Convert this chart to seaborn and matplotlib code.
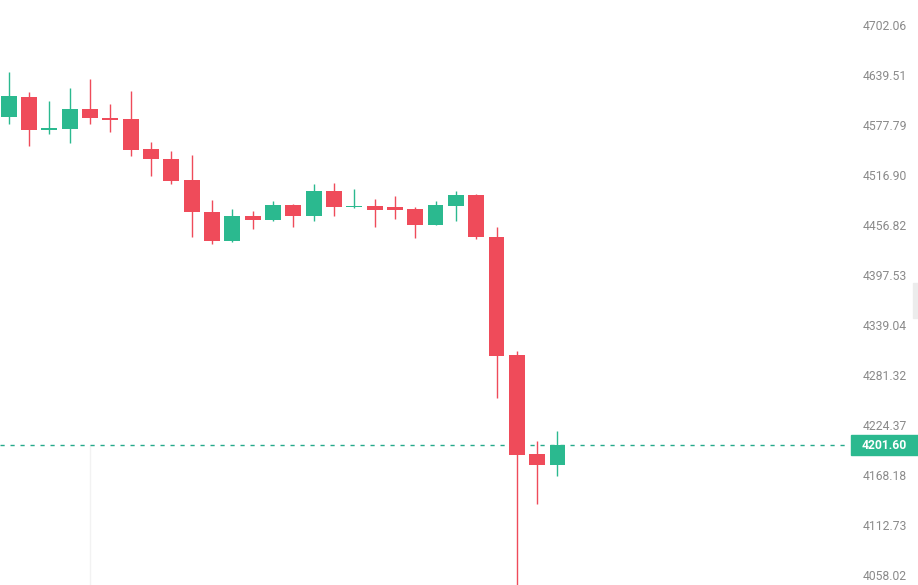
import numpy as np
import pandas as pd
import seaborn as sns
import matplotlib.pyplot as plt
from matplotlib.patches import Rectangle

sns.set_theme(style="white")
plt.rcParams['font.family'] = ['Roboto', 'DejaVu Sans']

# OHLC velas
opens = [4588, 4612, 4572, 4573, 4597, 4586, 4585, 4548, 4536, 4511, 4472, 4438, 4467, 4463,
         4481, 4467, 4497, 4478, 4479, 4478, 4476, 4457, 4480, 4493, 4442, 4304, 4192, 4179]
highs = [4643, 4618, 4607, 4623, 4635, 4604, 4620, 4557, 4546, 4541, 4487, 4476, 4474, 4485,
         4482, 4506, 4507, 4500, 4488, 4492, 4478, 4485, 4497, 4494, 4454, 4309, 4206, 4218]
lows = [4579, 4552, 4567, 4556, 4579, 4569, 4540, 4516, 4506, 4443, 4434, 4437, 4452, 4461,
        4454, 4462, 4468, 4477, 4455, 4464, 4441, 4457, 4462, 4440, 4255, 4040, 4136, 4167]
closes = [4613, 4572, 4574, 4597, 4586, 4584, 4547, 4536, 4510, 4472, 4438, 4467, 4463, 4481,
          4467, 4497, 4478, 4480, 4475, 4475, 4457, 4481, 4493, 4442, 4303, 4191, 4179, 4201.60]

tick_values = [4702.06, 4639.51, 4577.79, 4516.90, 4456.82, 4397.53,
               4339.04, 4281.32, 4224.37, 4168.18, 4112.73, 4058.02]
last_price = 4201.60

green = "#2bb98f"
red = "#ef4b5a"

df = pd.DataFrame({"open": opens, "high": highs, "low": lows, "close": closes})
df["idx"] = np.arange(len(df))
df["up"] = df["close"] >= df["open"]
df["color"] = np.where(df["up"], green, red)
df["bottom"] = df[["open", "close"]].min(axis=1)
df["height"] = (df["close"] - df["open"]).abs().clip(lower=1.6)

fig = plt.figure(figsize=(9.18, 5.85), dpi=100)
ax = fig.add_axes([0, 0, 840 / 918, 1])
ax.set_yscale("log")

# mechas y cuerpos
ax.vlines(df["idx"], df["low"], df["high"], colors=df["color"], linewidth=1, zorder=2)
ax.bar(df["idx"], df["height"], bottom=df["bottom"], width=0.78,
       color=df["color"], linewidth=0, zorder=3)

ax.set_xlim(-0.43, 40.9)
ax.set_ylim(4047.2, 4733.6)

# línea vertical tenue
ymax_frac = ax.transAxes.inverted().transform(ax.transData.transform((0, last_price)))[1]
ax.axvline(4, ymin=0, ymax=ymax_frac, color="#f2f2f2", linewidth=1, zorder=0)

# precio actual
ax.axhline(last_price, xmin=0, xmax=1.012, color="#26a98b", linewidth=1.0,
           linestyle=(0, (3, 4.2)), clip_on=False, zorder=1)

ax.set_yticks(tick_values)
ax.set_yticklabels([f"{v:.2f}" for v in tick_values])
ax.yaxis.set_minor_locator(plt.NullLocator())
ax.yaxis.tick_right()
ax.tick_params(axis="y", length=0, pad=16, labelsize=8.7, labelcolor="#8a8a8a")
ax.set_xticks([])
for s in ax.spines.values():
    s.set_visible(False)

# etiqueta del último precio
y_disp = ax.transData.transform((0, last_price))[1]
y_fig = fig.transFigure.inverted().transform((0, y_disp))[1]
h = 20 / 585
fig.patches.append(Rectangle((851 / 918, y_fig - h / 2), 67 / 918, h,
                             transform=fig.transFigure, color=green, zorder=5))
fig.text(862 / 918, y_fig, f"{last_price:.2f}", color="white", fontsize=8.7,
         fontweight="bold", va="center", ha="left", zorder=6)

# pestaña gris a la derecha
fig.patches.append(Rectangle((913 / 918, 1 - 318 / 585), 5 / 918, 35 / 585,
                             transform=fig.transFigure, color="#ececec", zorder=5))

fig.savefig("out.png", dpi=100)
